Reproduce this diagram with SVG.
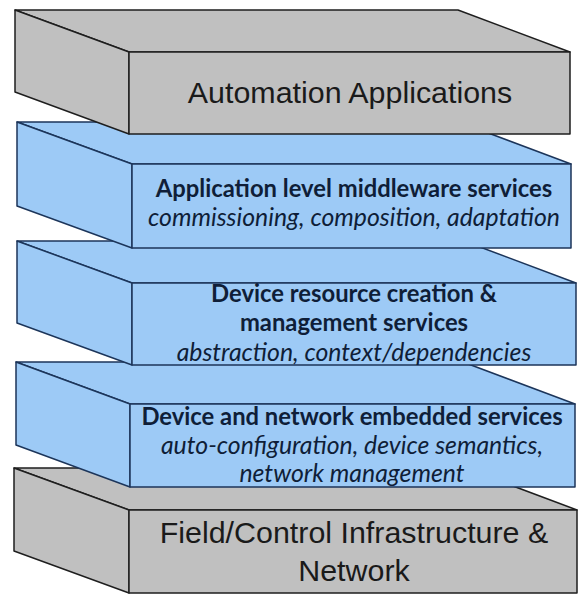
<svg xmlns="http://www.w3.org/2000/svg" width="578" height="595" viewBox="0 0 578 595">
<style>
.g{fill:#c0c0c0;stroke:#1e1e1e;stroke-width:1.5;stroke-linejoin:round}
.b{fill:#9dcaf6;stroke:#1c355a;stroke-width:1.5;stroke-linejoin:round}
.tg{font-family:"Liberation Sans",Arial,sans-serif;font-size:30.4px;fill:#1a1a1a;text-anchor:middle}
.tb{font-family:Lato,"Liberation Sans",sans-serif;font-size:23.8px;font-weight:bold;fill:#0f1e38;text-anchor:middle}
.ti{font-family:Lato,"Liberation Sans",sans-serif;font-size:24.8px;font-style:italic;fill:#0f1e38;text-anchor:middle}
</style>
<rect width="578" height="595" fill="#ffffff"/>
<g id="layer-field">
<polygon class="g" points="14,468 465,468 577,510 129,510"/>
<polygon class="g" points="14,468 129,510 129,593 14,551"/>
<rect class="g" x="129" y="510" width="448" height="83"/>
<text class="tg" x="354" y="543">Field/Control Infrastructure &amp;</text>
<text class="tg" x="354" y="581">Network</text>
</g>
<g id="layer-embedded">
<polygon class="b" points="16,362 463,362 575,404 130,404"/>
<polygon class="b" points="16,362 130,404 130,487 16,445"/>
<rect class="b" x="130" y="404" width="445" height="83"/>
<text class="tb" x="352" y="425">Device and network embedded services</text>
<text class="ti" x="352" y="454">auto-configuration, device semantics,</text>
<text class="ti" x="352" y="482">network management</text>
</g>
<g id="layer-resource">
<polygon class="b" points="17,241 464,241 576,283 132,283"/>
<polygon class="b" points="17,241 132,283 132,365 17,323"/>
<rect class="b" x="132" y="283" width="444" height="82"/>
<text class="tb" x="354" y="302">Device resource creation &amp;</text>
<text class="tb" x="354" y="331">management services</text>
<text class="ti" x="354" y="361">abstraction, context/dependencies</text>
</g>
<g id="layer-middleware">
<polygon class="b" points="17,122 459,122 571,164 132,164"/>
<polygon class="b" points="17,122 132,164 132,248 17,206"/>
<rect class="b" x="132" y="164" width="439" height="84"/>
<text class="tb" x="354" y="197">Application level middleware services</text>
<text class="ti" x="354" y="226">commissioning, composition, adaptation</text>
</g>
<g id="layer-applications">
<polygon class="g" points="15,10 458,10 570,52 129,52"/>
<polygon class="g" points="15,10 129,52 129,134 15,92"/>
<rect class="g" x="129" y="52" width="441" height="82"/>
<text class="tg" x="350" y="103">Automation Applications</text>
</g>
<g id="connectors"></g>
</svg>
